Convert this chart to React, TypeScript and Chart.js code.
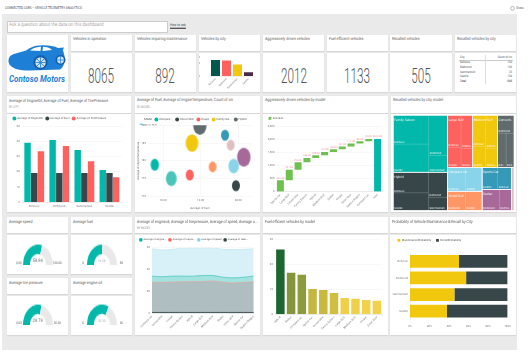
import React, { useEffect, useRef } from "react";
import { Chart, registerables } from "chart.js";

Chart.register(...registerables);

const setGeo = (c: any) => {
  c.ctx.textRendering = "geometricPrecision";
};
Chart.register({ id: "geoText", beforeInit: setGeo, beforeUpdate: setGeo, beforeLayout: setGeo, beforeDraw: setGeo } as any);

const FONT = '"Liberation Sans Narrow", "Roboto", sans-serif';
const AX = 2.8;
const LEG = 2.8;
Chart.defaults.font.family = FONT;
Chart.defaults.font.size = AX;
Chart.defaults.color = "#666";

// ---------- data ----------
const cityLabels = ["Bellevue", "Redmond", "Sammamish", "Seattle"];
const vehiclesByCity = [26, 25, 18.5, 6];
const engineOilByCity = [39, 40.8, 34.3, 21.2];
const fuelByCity = [19.2, 19.2, 19.2, 19.2];
const tirePressureByCity = [33.4, 36.9, 26.9, 16.4];

const bubbleModels = ["Compact car", "Convertible", "Coupe", "Family Saloon", "Hybrid", "Large SUV", "Medium SUV", "Sedan", "Small SUV", "Sports Car", "Station Wagon"];
const bubbleFuel = [17.78, 19.94, 18.71, 18.77, 18.98, 19.88, 19.32, 20.15, 19.65, 19.8, 18.22];
const bubbleTemp = [178.9, 173, 176, 185, 190, 178.5, 178.3, 181, 187.2, 184.4, 175];
const bubbleCount = [4.2, 4, 4, 6.3, 6.7, 5.2, 3.9, 6.7, 4, 3.9, 5.4];
const bubbleColors = ["#01B8AA", "#374649", "#FD625E", "#F2C80F", "#5F6B6D", "#8AD4EB", "#FE9666", "#A66999", "#3599B8", "#DFBFBF", "#4AC5BB"];
const bubbleLegendNames = ["Compact...", "Convertible", "Coupe", "Family Sal...", "Hybrid", "Large SUV"];

const waterfallModels = ["Sports Car", "Large SUV", "Convertible", "Family Saloon", "Hybrid", "Medium SUV", "Sedan", "Coupe", "Small SUV", "Station Wagon", "Compact car", "Total"];
const waterfallIncrements = [437, 401, 290, 160, 105, 127, 100, 107, 111, 90, 84];
const waterfallTotal = 2012;

const areaModels = ["Compact car", "Convertible", "Coupe", "Family Saloon", "Hybrid", "Large SUV", "Medium SUV", "Sedan", "Small SUV", "Sports Car", "Station Wagon"];
const speedByModel = [59, 58, 58.5, 60, 60, 60, 60, 58.5, 58.3, 58.5, 59];
const oilByModel = [34, 33.5, 34, 34, 34, 34.5, 34.5, 33, 32.5, 33, 34];
const tireByModel = [28.5, 28.3, 28.6, 28.8, 29, 29, 29.5, 28.5, 27.8, 28.3, 28.8];
const fuelByModel = [0.8, 0.8, 0.8, 0.8, 0.8, 0.8, 0.8, 0.8, 0.8, 0.8, 0.8];

const fuelEffModels = ["Hybrid", "Sedan", "Compact car", "Sports Car", "Convertible", "Family Saloon", "Large SUV", "Medium SUV", "Coupe", "Small SUV"];
const fuelEffValues = [26.1, 16.7, 15.9, 10.2, 9.8, 8.6, 6.6, 6.3, 5.8, 5.4];
const fuelEffColors = ["#1E6630", "#84963A", "#8C9C3C", "#C4B63F", "#C7B840", "#D0BE42", "#F0D048", "#F0D048", "#F2D24A", "#F2D24A"];

const maintenanceProb = [50.2, 57.5, 45.5, 37.9];
const recallProb = [49.8, 42.5, 54.5, 62.1];

const recalledCities = ["Bellevue", "Redmond", "Sammamish", "Seattle"];
const recalledCounts = [158, 156, 33, 158];
const recalledTotal = 505;

const kpiTiles = ["8065", "892", "2012", "1133", "505"];

const gaugeValues = [58.84, 19.24, 28.78, 32.3];
const gaugeMaxes = [100, 38, 50, 50];
const gaugeLabels = ["Average speed", "Average fuel", "Average tire pressure", "Average engine oil"];
const gaugeMinText = ["0.00", "0", "0.00", "0"];
const gaugeMaxText = ["100.00", "38", "50.00", "50"];
const gaugeValueText = ["58.84", "19.24", "28.78", "32.30"];

// treemap tree: values are vehicle counts
const leaf = (name: string, v: number) => ({ name, v });
const side = (d: string, ...c: any[]) => ({ d, c });
const group = (name: string, color: string, d: string, ...c: any[]) => ({ name, color, d, c });
const treemapTree = side(
  "h",
  side(
    "v",
    group("Family Saloon", "#01B8AA", "h", side("v", leaf("Bellevue", 45), leaf("Seattle", 44)), side("v", leaf("Redmond", 33), leaf("Sammamish", 14))),
    group("Hybrid", "#374649", "h", side("v", leaf("Bellevue", 32), leaf("Seattle", 27)), side("v", leaf("Redmond", 21), leaf("Sammamish", 11)))
  ),
  side(
    "v",
    side(
      "h",
      group("Large SUV", "#FD625E", "h", side("v", leaf("Bellevue", 19), leaf("Seattle", 12)), side("v", leaf("Redmond", 17), leaf("Sammamish", 10))),
      group("Medium SUV", "#F2C80F", "h", side("v", leaf("Bellevue", 18), leaf("Seattle", 12)), side("v", leaf("Redmond", 17), leaf("Sammamish", 10))),
      group("Convertible", "#5F6B6D", "v", leaf("Redmond", 13), side("h", leaf("Bellevue", 13), leaf("Redmond", 12)))
    ),
    side(
      "h",
      side(
        "v",
        group("Compact car", "#8AD4EB", "h", leaf("Bellevue", 19), leaf("Seattle", 17)),
        group("Small SUV", "#FE9666", "h", leaf("Redmond", 15), leaf("Seattle", 14))
      ),
      side(
        "v",
        group("Sports Car", "#3599B8", "h", leaf("Seattle", 15), leaf("Bellevue", 13)),
        group("Sedan", "#A66999", "h", leaf("Redmond", 16), leaf("Redmond", 11))
      ),
      group("", "#DFBFBF", "h", leaf("", 5))
    )
  )
);

// ---------- helpers ----------
const size = (n: any): number => (n.c ? n.c.reduce((s: number, k: any) => s + size(k), 0) : n.v);

function layoutTree(n: any, x0: number, y0: number, x1: number, y1: number, out: any[], color?: string) {
  const col = n.color || color;
  if (n.color) out.push({ kind: "group", name: n.name, color: col, x0, y0, x1, y1 });
  if (!n.c) {
    out.push({ kind: "leaf", name: n.name, color: col, x0, y0, x1, y1 });
    return;
  }
  const total = size(n);
  let p = 0;
  n.c.forEach((k: any) => {
    const a = p / total;
    p += size(k);
    const b = p / total;
    if (n.d === "h") layoutTree(k, x0 + (x1 - x0) * a, y0, x0 + (x1 - x0) * b, y1, out, col);
    else layoutTree(k, x0, y0 + (y1 - y0) * a, x1, y0 + (y1 - y0) * b, out, col);
  });
}

function legendHeight(h: number) {
  return {
    id: "legendHeight",
    beforeInit(chart: any) {
      const l = chart.legend;
      if (!l) return;
      const f = l.fit;
      l.fit = function () {
        f.call(this);
        this.height = h;
      };
    },
  };
}

// axes with a fixed plot box
function boxY(left: number, extra: any = {}) {
  return {
    grid: { color: "#f1f1f1", lineWidth: 0.5, drawTicks: false },
    border: { display: false },
    ticks: { padding: 2, font: { size: AX }, color: "#777" },
    afterFit: (s: any) => {
      s.width = left;
    },
    ...extra,
  };
}
function boxX(bottom: number, extra: any = {}) {
  return {
    grid: { display: false, drawTicks: false },
    border: { color: "#ddd", width: 0.5 },
    ticks: { padding: 2, autoSkip: false, font: { size: AX }, color: "#777", minRotation: 0, maxRotation: 0 },
    afterFit: (s: any) => {
      s.height = bottom;
    },
    ...extra,
  };
}
const rot45 = { padding: 1.5, autoSkip: false, font: { size: AX }, color: "#777", minRotation: 45, maxRotation: 45 };
const legendOpts = (pad = 2.5, style = "circle") => ({
  display: true,
  position: "top",
  align: "start",
  labels: { usePointStyle: true, pointStyle: style, boxWidth: 3, boxHeight: 3, padding: pad, font: { size: LEG }, color: "#555" },
});
const base = (extra: any) => ({ responsive: false, animation: false, devicePixelRatio: 1, events: [], ...extra });

function ellipse(color: string, r: number) {
  const rx = r;
  const ry = r * 1.4;
  const c = document.createElement("canvas");
  c.width = Math.ceil(rx * 2 + 2);
  c.height = Math.ceil(ry * 2 + 2);
  const g = c.getContext("2d")!;
  g.fillStyle = color;
  g.beginPath();
  g.ellipse(c.width / 2, c.height / 2, rx, ry, 0, 0, Math.PI * 2);
  g.fill();
  return c;
}

function ChartBox({ x, y, w, h, make, style }: any) {
  const ref = useRef<HTMLCanvasElement>(null);
  useEffect(() => {
    const ch = new Chart(ref.current as any, make());
    return () => ch.destroy();
  }, []);
  return <canvas ref={ref} width={w} height={h} style={{ position: "absolute", left: x, top: y, width: w, height: h, ...style }} />;
}

function T({ x, y, s = 3.6, c = "#555", a = "left", children, style }: any) {
  const tx = a === "left" ? "0" : a === "center" ? "-50%" : "-100%";
  return (
    <div style={{ position: "absolute", left: x, top: y, transform: `translate(${tx},-50%) scaleY(1.2)`, fontSize: s, color: c, whiteSpace: "nowrap", lineHeight: 1, fontFamily: FONT, textRendering: "geometricPrecision", ...style }}>
      {children}
    </div>
  );
}

function Tile({ x, y, w, h }: any) {
  return <div style={{ position: "absolute", left: x, top: y, width: w, height: h, background: "#fff", boxShadow: "0 1px 1px rgba(0,0,0,0.08)" }} />;
}

function Card({ x, w, y, titleH, h, title, sub, ty }: any) {
  return (
    <>
      <Tile x={x} y={y} w={w} h={titleH} />
      <Tile x={x} y={y + titleH + 1.5} w={w} h={h - titleH - 1.5} />
      <T x={x + 2} y={ty ?? y + 5.5}>{title}</T>
      {sub && <T x={x + 2} y={(ty ?? y + 5.5) + 5.3} s={2.8} c="#999">{sub}</T>}
    </>
  );
}

function Kpi({ cx, text }: any) {
  return (
    <div style={{ position: "absolute", left: cx, top: 75.5, transform: "translate(-50%,-50%) scaleX(0.56)", fontFamily: "Roboto, sans-serif", fontWeight: 300, fontSize: 21, lineHeight: 1, color: "#555" }}>
      {text}
    </div>
  );
}

// ---------- chart configs ----------
const cityBars = () => ({
  type: "bar",
  data: { labels: cityLabels, datasets: [{ data: vehiclesByCity, backgroundColor: ["#01584C", "#FD625E", "#F2C80F", "#4B2B45"], categoryPercentage: 1, barPercentage: 0.82 }] },
  options: base({
    layout: { padding: { top: 4.5, right: 6 } },
    plugins: { legend: { display: false }, tooltip: { enabled: false } },
    scales: {
      x: boxX(16, { ticks: { ...rot45, font: { size: 2.5 } } }),
      y: boxY(11, { min: 0, max: 30, ticks: { stepSize: 20, padding: 2, font: { size: AX }, color: "#777" }, grid: { display: false } }),
    },
  }),
});

const clustered = () => ({
  type: "bar",
  data: {
    labels: cityLabels,
    datasets: [
      { label: "Average of EngineOil", data: engineOilByCity, backgroundColor: "#01B8AA" },
      { label: "Average of Fuel", data: fuelByCity, backgroundColor: "#374649" },
      { label: "Average of TirePressure", data: tirePressureByCity, backgroundColor: "#FD625E" },
    ].map((d) => ({ ...d, categoryPercentage: 0.8, barPercentage: 0.96 })),
  },
  plugins: [legendHeight(12)],
  options: base({
    layout: { padding: { left: 3, right: 9 } },
    plugins: { legend: legendOpts(3), tooltip: { enabled: false } },
    scales: { x: boxX(9.7), y: boxY(11.7, { min: 0, max: 50, ticks: { stepSize: 10, padding: 2, font: { size: AX }, color: "#777" } }) },
  }),
});

const bubble = () => ({
  type: "bubble",
  data: {
    datasets: bubbleModels.map((m, i) => ({
      label: m,
      data: [{ x: bubbleFuel[i], y: bubbleTemp[i], r: bubbleCount[i] }],
      backgroundColor: bubbleColors[i],
      pointStyle: ellipse(bubbleColors[i], bubbleCount[i]),
    })),
  },
  plugins: [legendHeight(10.3)],
  options: base({
    layout: { padding: { left: 2, right: 8.3, top: 1 } },
    plugins: {
      tooltip: { enabled: false },
      legend: {
        ...legendOpts(3),
        labels: {
          ...legendOpts(3).labels,
          generateLabels: () => [
            { text: "Model", fillStyle: "rgba(0,0,0,0)", strokeStyle: "rgba(0,0,0,0)", lineWidth: 0, pointStyle: "circle", fontColor: "#333" },
            ...bubbleLegendNames.map((n, i) => ({ text: n, fillStyle: bubbleColors[i], strokeStyle: bubbleColors[i], lineWidth: 0, pointStyle: "circle", fontColor: "#555" })),
          ],
        },
      },
    },
    scales: {
      x: {
        type: "linear",
        min: 17.6,
        max: 20.36,
        grid: { color: "#f1f1f1", lineWidth: 0.5, drawTicks: false },
        border: { display: false },
        ticks: { stepSize: 1, includeBounds: false, padding: 2, font: { size: AX }, color: "#777", callback: (v: number) => v.toFixed(2) },
        title: { display: true, text: "Average of Fuel", font: { size: AX }, color: "#666", padding: { top: 2, bottom: 2 } },
        afterFit: (s: any) => {
          s.height = 15.7;
        },
      },
      y: {
        min: 170,
        max: 190,
        grid: { color: "#f1f1f1", lineWidth: 0.5, drawTicks: false },
        border: { display: false },
        ticks: { stepSize: 5, padding: 2, font: { size: AX }, color: "#777" },
        title: { display: true, text: "Average of engineTemperature", font: { size: AX }, color: "#666", padding: { top: 0, bottom: 1 } },
        afterFit: (s: any) => {
          s.width = 11;
        },
      },
    },
  }),
});

const waterfall = () => {
  let run = 0;
  const floats = waterfallIncrements.map((v) => {
    const r = [run, run + v];
    run += v;
    return r;
  });
  floats.push([0, waterfallTotal]);
  const labelPlugin = {
    id: "wfLabels",
    afterDatasetsDraw(chart: any) {
      const meta = chart.getDatasetMeta(0);
      const ctx = chart.ctx;
      ctx.save();
      ctx.font = `2.6px ${FONT}`;
      ctx.fillStyle = "#F28B87";
      ctx.textAlign = "center";
      ctx.textBaseline = "bottom";
      meta.data.forEach((el: any, i: number) => {
        const t = i < waterfallIncrements.length ? waterfallIncrements[i].toFixed(2) : waterfallTotal.toFixed(2);
        ctx.fillText(t, el.x, el.y - 1);
      });
      ctx.restore();
    },
  };
  return {
    type: "bar",
    data: {
      labels: waterfallModels,
      datasets: [{ label: "Increase", data: floats, backgroundColor: floats.map((_, i) => (i === floats.length - 1 ? "#01B8AA" : "#6EC04F")), categoryPercentage: 1, barPercentage: 0.79 }],
    },
    plugins: [legendHeight(12.3), labelPlugin],
    options: base({
      layout: { padding: { left: 2.5, right: 6 } },
      plugins: { legend: legendOpts(3, "rect"), tooltip: { enabled: false } },
      scales: {
        x: boxX(20.3, { ticks: rot45 }),
        y: boxY(10.5, { min: 0, max: 2500, ticks: { stepSize: 500, padding: 1.5, font: { size: AX }, color: "#777" } }),
      },
    }),
  };
};

const treemap = () => {
  const cells: any[] = [];
  layoutTree(treemapTree, 0, 0, 100, 100, cells);
  const plugin = {
    id: "treemapCells",
    afterDatasetsDraw(chart: any) {
      const { ctx, scales } = chart;
      const X = (v: number) => scales.x.getPixelForValue(v);
      const Y = (v: number) => scales.y.getPixelForValue(v);
      const fit = (s: string, w: number) => {
        if (ctx.measureText(s).width <= w) return s;
        let t = s;
        while (t.length > 1 && ctx.measureText(t + "..").width > w) t = t.slice(0, -1);
        return t.length > 1 ? t + ".." : "";
      };
      ctx.save();
      cells.filter((c) => c.kind === "group").forEach((c) => {
        ctx.fillStyle = c.color;
        ctx.fillRect(X(c.x0), Y(c.y0), X(c.x1) - X(c.x0), Y(c.y1) - Y(c.y0));
      });
      ctx.strokeStyle = "rgba(255,255,255,0.2)";
      ctx.lineWidth = 0.5;
      ctx.fillStyle = "rgba(255,255,255,0.9)";
      ctx.textBaseline = "bottom";
      ctx.font = `2.7px ${FONT}`;
      cells.filter((c) => c.kind === "leaf").forEach((c) => {
        const w = X(c.x1) - X(c.x0);
        ctx.strokeRect(X(c.x0), Y(c.y0), w, Y(c.y1) - Y(c.y0));
        const t = fit(c.name, w - 1.5);
        if (t) ctx.fillText(t, X(c.x0) + 1, Y(c.y1) - 0.6);
      });
      ctx.strokeStyle = "#fff";
      ctx.lineWidth = 0.6;
      ctx.textBaseline = "top";
      ctx.font = `3.3px ${FONT}`;
      cells.filter((c) => c.kind === "group").forEach((c) => {
        const w = X(c.x1) - X(c.x0);
        ctx.strokeRect(X(c.x0), Y(c.y0), w, Y(c.y1) - Y(c.y0));
        const t = fit(c.name, w - 1.5);
        if (t) ctx.fillText(t, X(c.x0) + 1, Y(c.y0) + 3);
      });
      ctx.restore();
    },
  };
  return {
    type: "scatter",
    data: { datasets: [{ data: cells.map((c) => ({ x: (c.x0 + c.x1) / 2, y: (c.y0 + c.y1) / 2 })), pointRadius: 0 }] },
    plugins: [plugin],
    options: base({
      layout: { padding: { left: 2.3, right: 2, top: 1.3, bottom: 1.7 } },
      plugins: { legend: { display: false }, tooltip: { enabled: false } },
      scales: { x: { display: false, min: 0, max: 100 }, y: { display: false, min: 0, max: 100, reverse: true } },
    }),
  };
};

const gauge = (i: number) => () => ({
  type: "doughnut",
  data: { datasets: [{ data: [gaugeValues[i], gaugeMaxes[i] - gaugeValues[i]], backgroundColor: ["#01B8AA", "#E9E9E9"], borderWidth: 0 }] },
  options: base({ rotation: -90, circumference: 180, cutout: "54%", plugins: { legend: { display: false }, tooltip: { enabled: false } } }),
});

const area = () => {
  const mk = (label: string, data: number[], line: string, fill: string, order: number) => ({ label, data, borderColor: line, backgroundColor: fill, fill: "origin", borderWidth: 0.7, pointRadius: 0, tension: 0.4, order });
  const labels = { ...legendOpts(2.5).labels, font: { size: 2.6 } };
  return {
    type: "line",
    data: {
      labels: areaModels,
      datasets: [
        mk("Average of engine...", oilByModel, "#3CC6BC", "#A3E2DE", 3),
        mk("Average of tirepre...", tireByModel, "#E8A5A0", "#AFBFC1", 2),
        mk("Average of speed", speedByModel, "#BFE6F1", "#D8F0F7", 4),
        mk("Average of fuelv...", fuelByModel, "#374649", "#374649", 1),
      ],
    },
    plugins: [legendHeight(11.7)],
    options: base({
      layout: { padding: { left: 2, right: 0, top: 2 } },
      plugins: {
        legend: {
          ...legendOpts(2.5),
          labels: {
            ...labels,
            generateLabels: (c: any) => ["#01B8AA", "#FD625E", "#8AD4EB", "#374649"].map((col, i) => ({ text: c.data.datasets[i].label, fillStyle: col, strokeStyle: col, lineWidth: 0, pointStyle: "circle", fontColor: "#555" })),
          },
        },
        tooltip: { enabled: false },
      },
      scales: {
        x: boxX(21.7, { offset: false, ticks: rot45 }),
        y: boxY(15, { min: 0, max: 60, ticks: { stepSize: 20, padding: 2, font: { size: AX }, color: "#777" } }),
        gutter: {
          position: "right",
          display: true,
          ticks: { display: false },
          grid: { display: false },
          border: { display: false },
          afterFit: (s: any) => {
            s.width = 6.3;
          },
        },
      },
    }),
  };
};

const fuelEff = () => ({
  type: "bar",
  data: { labels: fuelEffModels, datasets: [{ data: fuelEffValues, backgroundColor: fuelEffColors, categoryPercentage: 1, barPercentage: 0.79 }] },
  options: base({
    layout: { padding: { top: 5.7, right: 5.7 } },
    plugins: { legend: { display: false }, tooltip: { enabled: false } },
    scales: {
      x: boxX(20.7, { ticks: rot45 }),
      y: boxY(12, { min: 0, max: 30, ticks: { stepSize: 10, padding: 2, font: { size: AX }, color: "#777" } }),
    },
  }),
});

const stacked = () => ({
  type: "bar",
  data: {
    labels: cityLabels,
    datasets: [
      { label: "MaintenanceProbability", data: maintenanceProb, backgroundColor: "#F2C80F", categoryPercentage: 1, barPercentage: 0.76 },
      { label: "RecallProbability", data: recallProb, backgroundColor: "#374649", categoryPercentage: 1, barPercentage: 0.76 },
    ],
  },
  plugins: [legendHeight(19)],
  options: base({
    indexAxis: "y",
    layout: { padding: { left: 2.5, right: 5.7 } },
    plugins: { legend: legendOpts(5, "rect"), tooltip: { enabled: false } },
    scales: {
      x: {
        stacked: true,
        min: 0,
        max: 100,
        grid: { display: false, drawTicks: false },
        border: { display: false },
        ticks: { stepSize: 20, padding: 5, font: { size: AX }, color: "#777", callback: (v: number) => v + "%" },
        afterFit: (s: any) => {
          s.height = 15.5;
        },
      },
      y: {
        stacked: true,
        grid: { display: false, drawTicks: false },
        border: { color: "#ddd", width: 0.5 },
        ticks: { padding: 2, font: { size: AX }, color: "#777" },
        afterFit: (s: any) => {
          s.width = 17.5;
        },
      },
    },
  }),
});

function Logo() {
  return (
    <svg style={{ position: "absolute", left: 7, top: 35 }} width={61} height={57} viewBox="7 35 61 57">
      <path d="M8.5 62 C8.5 57 10 55.5 14 54 L26 50.5 C30 47.5 34 45.5 40 45.5 C47 45 54 46 58 48 L64 47.5 L63 50 L64.5 56 C65 62 64 67 60 69.5 L30 70.5 C20 70.5 10 69 8.5 62 Z" fill="#1D7FD6" />
      <path d="M30 50.5 C34 47.5 38 46.8 41 46.8 L40.5 51 Z M43 46.8 C46 46.8 50 47.5 52 50 L42.5 51 Z" fill="#fff" />
      <circle cx="40.5" cy="62.5" r="7.2" fill="#155FA8" />
      <circle cx="40.5" cy="62.5" r="5.2" fill="#CFE3F6" />
      <path d="M40.5 57.3 V67.7 M35.3 62.5 H45.7 M36.8 58.8 L44.2 66.2 M44.2 58.8 L36.8 66.2" stroke="#1D7FD6" strokeWidth="0.8" />
      <circle cx="60.5" cy="60" r="5" fill="#155FA8" />
      <circle cx="60.5" cy="60" r="3.4" fill="#CFE3F6" />
      <path d="M60.5 56.6 V63.4 M57.1 60 H63.9" stroke="#1D7FD6" strokeWidth="0.7" />
      <text x="9" y="81.5" fill="#1D7FD6" style={{ fontFamily: FONT, fontWeight: 700, fontStyle: "italic", fontSize: 9 }} textLength="56" lengthAdjust="spacingAndGlyphs">
        Contoso Motors
      </text>
    </svg>
  );
}

const gaugeX = [22.7, 86.7, 22.7, 86.7];
const gaugeBottom = [264.7, 264.7, 325.3, 325.3];

export default function App() {
  return (
    <div style={{ position: "fixed", left: 0, top: 0, width: 529, height: 353, background: "#fff", overflow: "hidden", filter: "blur(0.35px)" }}>
      <div style={{ position: "absolute", left: 2, top: 14, width: 515, height: 336, background: "#EAEAEA" }} />
      <T x={5} y={7.7} s={3.1} c="#444">CONNECTED CARS – VEHICLE TELEMETRY ANALYTICS</T>
      <T x={516} y={8} s={3} c="#666">Share</T>
      <svg style={{ position: "absolute", left: 510, top: 5 }} width={5} height={6} viewBox="0 0 5 6">
        <circle cx="2.5" cy="3.3" r="1.9" fill="none" stroke="#777" strokeWidth="0.5" />
      </svg>
      <div style={{ position: "absolute", left: 7, top: 21, width: 159, height: 9.5, background: "#fff", border: "0.5px solid #ccc" }} />
      <T x={9} y={26} s={4.4} c="#aaa">Ask a question about the data on this dashboard</T>
      <T x={170} y={26} s={3.2} c="#444" style={{ textDecoration: "underline" }}>How to ask</T>

      {/* row 1 */}
      <Tile x={7} y={35} w={61} h={57} />
      <Logo />
      <Card x={71} w={61} y={35} titleH={16} h={57} ty={40} title="Vehicles in operation" />
      <Card x={135} w={61} y={35} titleH={16} h={57} ty={40} title="Vehicles requiring maintenance" />
      <Card x={199} w={61} y={35} titleH={16} h={57} ty={40} title="Vehicles by city" />
      <Card x={263} w={61} y={35} titleH={16} h={57} ty={40} title="Aggressively driven vehicles" />
      <Card x={327} w={61} y={35} titleH={16} h={57} ty={40} title="Fuel efficient vehicles" />
      <Card x={390} w={62} y={35} titleH={16} h={57} ty={40} title="Recalled vehicles" />
      <Card x={455} w={61} y={35} titleH={16} h={57} ty={40} title="Recalled vehicles by city" />
      <Kpi cx={101} text={kpiTiles[0]} />
      <Kpi cx={165} text={kpiTiles[1]} />
      <Kpi cx={293.5} text={kpiTiles[2]} />
      <Kpi cx={357} text={kpiTiles[3]} />
      <Kpi cx={421} text={kpiTiles[4]} />
      <ChartBox x={199} y={52.5} w={61} h={39.5} make={cityBars} />

      {/* recalled table */}
      <T x={460} y={57} s={2.7}>City</T>
      <T x={512} y={57} s={2.7} a="right">Count of vin</T>
      <div style={{ position: "absolute", left: 459, top: 59.5, width: 54, height: 0.5, background: "#ccc" }} />
      <div style={{ position: "absolute", left: 485, top: 55, width: 0.5, height: 29, background: "#ddd" }} />
      {recalledCities.map((c, i) => (
        <React.Fragment key={c}>
          <T x={460} y={62 + i * 4.8} s={2.7}>{c}</T>
          <T x={512} y={62 + i * 4.8} s={2.7} a="right">{recalledCounts[i]}</T>
        </React.Fragment>
      ))}
      <T x={460} y={81.2} s={2.7} style={{ fontWeight: 700 }}>Total</T>
      <T x={512} y={81.2} s={2.7} a="right" style={{ fontWeight: 700 }}>{recalledTotal}</T>

      {/* row 2 */}
      <Card x={7} w={124} y={96} titleH={16.5} h={116} ty={101.7} title="Average of EngineOil, Average of Fuel, Average of TirePressure" sub="BY CITY" />
      <Card x={135} w={125} y={96} titleH={16.5} h={116} ty={101.3} title="Average of Fuel, Average of engineTemperature, Count of vin" sub="BY MODEL" />
      <Card x={263} w={125} y={96} titleH={16.5} h={116} ty={101.3} title="Aggressively driven vehicles by model" />
      <Card x={391} w={125} y={96} titleH={16.5} h={116} ty={101.3} title="Recalled vehicles by city, model" />
      <ChartBox x={7} y={114} w={124} h={98} make={clustered} />
      <ChartBox x={135} y={114} w={125} h={98} make={bubble} />
      <ChartBox x={263} y={114} w={125} h={98} make={waterfall} />
      <ChartBox x={391} y={114} w={125} h={98} make={treemap} />

      {/* row 3 gauges */}
      <Card x={7} w={61} y={217} titleH={16} h={57} ty={223} title={gaugeLabels[0]} />
      <Card x={71} w={61} y={217} titleH={16} h={57} ty={223} title={gaugeLabels[1]} />
      <Card x={7} w={61} y={278} titleH={16} h={57} ty={284} title={gaugeLabels[2]} />
      <Card x={71} w={61} y={278} titleH={16} h={57} ty={284} title={gaugeLabels[3]} />
      {gaugeX.map((gx, i) => (
        <React.Fragment key={i}>
          <ChartBox x={gx} y={gaugeBottom[i] - 15} w={30} h={15} make={gauge(i)} style={{ transform: "scaleY(1.36)", transformOrigin: "bottom" }} />
          <T x={gx + 15} y={gaugeBottom[i] - 4} s={i % 2 ? 3 : 4} c={i % 2 ? "#aaa" : "#777"} a="center">{gaugeValueText[i]}</T>
          <T x={gx - 3.7} y={gaugeBottom[i] - 2} s={2.9} c="#666" a="center">{gaugeMinText[i]}</T>
          <T x={gx + 34.6} y={gaugeBottom[i] - 2} s={2.9} c="#666" a="center">{gaugeMaxText[i]}</T>
        </React.Fragment>
      ))}

      <Card x={135} w={125} y={217} titleH={16} h={118} ty={223} title="Average of engineoil, Average of tirepressure, Average of speed, Average o..." sub="BY MODEL" />
      <Card x={263} w={125} y={217} titleH={16} h={118} ty={223} title="Fuel efficient vehicles by model" />
      <Card x={390} w={126} y={217} titleH={16} h={118} ty={223} title="Probability of Vehicle Maintenance & Recall by City" />
      <ChartBox x={135} y={234} w={125} h={101} make={area} />
      <ChartBox x={263} y={234} w={125} h={101} make={fuelEff} />
      <ChartBox x={390} y={234} w={126} h={101} make={stacked} />
    </div>
  );
}
